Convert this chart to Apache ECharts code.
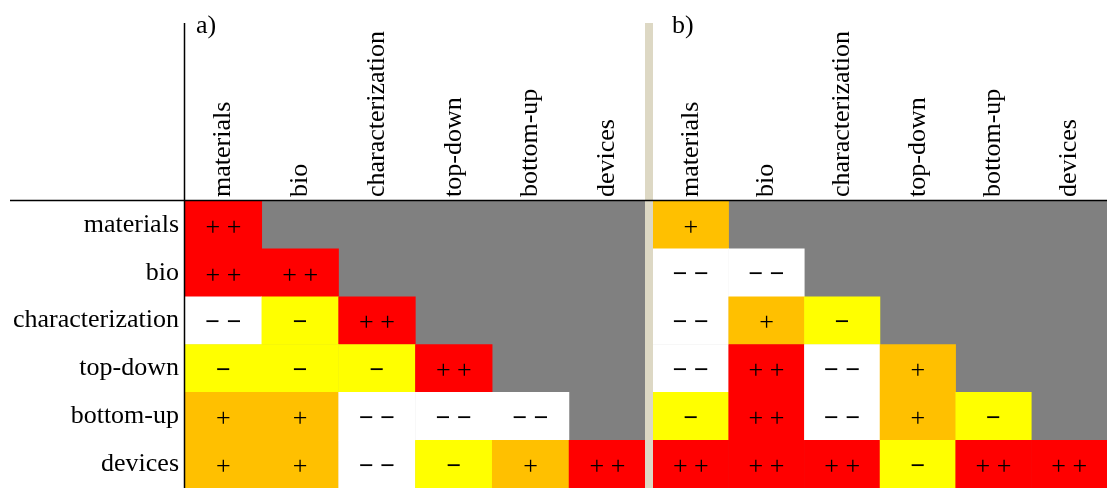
<!DOCTYPE html>
<html>
<head>
<meta charset="utf-8">
<script src="https://cdn.jsdelivr.net/npm/echarts@6/dist/echarts.min.js"></script>
<style>
  html, body { margin: 0; padding: 0; background: #fff; }
  #chart { width: 1107px; height: 488px; }
</style>
</head>
<body>
<div id="chart"></div>
<script>
// Research areas (same order on both axes)
const areas = ['materials', 'bio', 'characterization', 'top-down', 'bottom-up', 'devices'];

// Lower-triangular ratings, row by row: 2 = "++", 1 = "+", -1 = "−", -2 = "−−"
const panelA = [
  [2],
  [2, 2],
  [-2, -1, 2],
  [-1, -1, -1, 2],
  [1, 1, -2, -2, -2],
  [1, 1, -2, -1, 1, 2]
];
const panelB = [
  [1],
  [-2, -2],
  [-2, 1, -1],
  [-2, 2, -2, 1],
  [-1, 2, -2, 1, -1],
  [2, 2, 2, -1, 2, 2]
];

const panelTitles = ['a)', 'b)'];
// Rich-text label for each rating; minus signs drawn heavier than plus signs
const symbols = {
  '2': '{p|+ +}',
  '1': '{p|+}',
  '-1': '{m|\u2212}',
  '-2': '{m|\u2212 \u2212}'
};

const FONT = 'Liberation Serif';
const cellW = 76.8, cellH = 48;
const gridTop = 201;
const gridLefts = [185, 653];

function toCells(matrix) {
  const out = [];
  matrix.forEach((row, r) => row.forEach((v, c) => out.push([c, r, v])));
  return out;
}

const chart = echarts.init(document.getElementById('chart'), null, { renderer: 'canvas' });

const grids = gridLefts.map(left => ({
  left: left, top: gridTop, width: cellW * 6, height: cellH * 6,
  show: true, backgroundColor: '#808080', borderWidth: 0, containLabel: false
}));

const xAxes = [0, 1].map(i => ({
  type: 'category', gridIndex: i, position: 'top', data: areas,
  axisLine: { show: false }, axisTick: { show: false }, splitLine: { show: false },
  axisLabel: { rotate: -90, margin: 4, fontFamily: FONT, fontSize: 26, color: '#000', interval: 0 }
}));

const yAxes = [0, 1].map(i => ({
  type: 'category', gridIndex: i, inverse: true, data: areas,
  axisLine: { show: false }, axisTick: { show: false }, splitLine: { show: false },
  axisLabel: { show: i === 0, margin: 6, fontFamily: FONT, fontSize: 26, color: '#000', interval: 0 }
}));

const series = [panelA, panelB].map((m, i) => ({
  type: 'heatmap', xAxisIndex: i, yAxisIndex: i, data: toCells(m),
  itemStyle: { borderWidth: 0 },
  emphasis: { disabled: true },
  label: {
    show: true, color: '#000',
    formatter: p => symbols[String(p.value[2])],
    rich: {
      p: { fontFamily: FONT, fontSize: 26, color: '#000', padding: [6, 0, 0, 0] },
      m: { fontFamily: FONT, fontSize: 26, fontWeight: 'bold', color: '#000', padding: [6, 0, 0, 0] }
    }
  }
}));

const sepX = 645, sepW = 8, lineTop = 23;

chart.setOption({
  animation: false,
  backgroundColor: '#fff',
  grid: grids,
  xAxis: xAxes,
  yAxis: yAxes,
  visualMap: {
    type: 'piecewise', show: false, seriesIndex: [0, 1], dimension: 2,
    pieces: [
      { value: 2, color: '#FF0000' },
      { value: 1, color: '#FFC000' },
      { value: -1, color: '#FFFF00' },
      { value: -2, color: '#FFFFFF' }
    ]
  },
  series: series,
  graphic: [
    { type: 'rect', z: 10, shape: { x: sepX, y: lineTop, width: sepW, height: 488 - lineTop },
      style: { fill: '#DDD8C4' } },
    { type: 'line', z: 11, shape: { x1: 184.5, y1: lineTop, x2: 184.5, y2: 488 },
      style: { stroke: '#000', lineWidth: 1.5 } },
    { type: 'line', z: 11, shape: { x1: 10, y1: 200.5, x2: 1107, y2: 200.5 },
      style: { stroke: '#000', lineWidth: 1.5 } },
    { type: 'text', z: 11, x: 196, y: 13,
      style: { text: panelTitles[0], font: '26px "Liberation Serif"', fill: '#000' } },
    { type: 'text', z: 11, x: 672, y: 13,
      style: { text: panelTitles[1], font: '26px "Liberation Serif"', fill: '#000' } }
  ]
});
</script>
</body>
</html>
